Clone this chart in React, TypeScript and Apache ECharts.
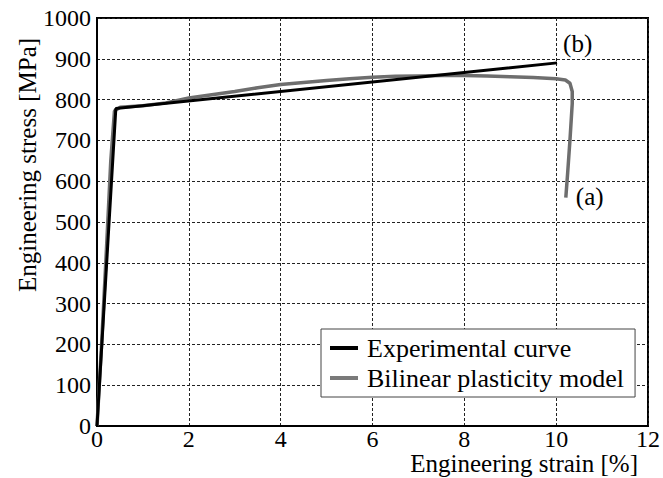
import React, { useEffect, useRef } from "react";
import * as echarts from "echarts";

// Black bilinear line (legend: "Experimental curve")
const blackStrain = [0, 0.41, 10.02];
const blackStress = [0, 778, 890];

// Gray measured curve (legend: "Bilinear plasticity model")
const grayStrain = [0, 0.1, 0.2, 0.3, 0.38, 0.5, 1, 1.5, 2, 2.5, 3, 3.5, 4, 4.5, 5, 5.5, 6, 6.5, 7, 7.5, 8, 8.5, 9, 9.5, 10, 10.2, 10.3, 10.35, 10.35, 10.3, 10.25, 10.21];
const grayStress = [0, 200, 420, 650, 772, 781, 785, 792, 804, 812, 820, 829, 837, 842, 847, 851, 855, 857, 858, 859, 859, 858, 856, 854, 851, 848, 840, 820, 790, 700, 620, 560];

const xTicks = { min: 0, max: 12, interval: 2 };
const yTicks = { min: 0, max: 1000, interval: 100 };

const seriesNames = ["Experimental curve", "Bilinear plasticity model"];
const endLabels = ["(b)", "(a)"];

const FONT = "'Liberation Serif', 'DejaVu Serif', serif";

export default function App() {
  const ref = useRef<HTMLDivElement>(null);
  useEffect(() => {
    document.body.style.margin = "0";
    const chart = echarts.init(ref.current!, undefined, { renderer: "svg" });

    const blackData = blackStrain.map((x, i) => {
      const last = i === blackStrain.length - 1;
      return last
        ? {
            value: [x, blackStress[i]],
            symbol: "circle",
            symbolSize: 0.01,
            label: {
              show: true,
              formatter: endLabels[0],
              position: "right",
              distance: 0,
              offset: [6, -19],
              color: "#000",
              fontFamily: FONT,
              fontSize: 25,
            },
          }
        : { value: [x, blackStress[i]] };
    });
    const grayData = grayStrain.map((x, i) => {
      const last = i === grayStrain.length - 1;
      return last
        ? {
            value: [x, grayStress[i]],
            symbol: "circle",
            symbolSize: 0.01,
            label: {
              show: true,
              formatter: endLabels[1],
              position: "right",
              distance: 5,
              offset: [5, -1],
              color: "#000",
              fontFamily: FONT,
              fontSize: 25,
            },
          }
        : { value: [x, grayStress[i]] };
    });

    chart.setOption({
      animation: false,
      backgroundColor: "#fff",
      grid: {
        left: 97,
        right: 8,
        top: 18,
        bottom: 52,
        show: true,
        borderColor: "#000",
        borderWidth: 2,
        backgroundColor: "transparent",
      },
      legend: {
        orient: "vertical",
        left: 321,
        top: 329,
        data: [seriesNames[0], seriesNames[1]],
        icon: "rect",
        itemWidth: 28,
        itemHeight: 4,
        itemGap: 4,
        padding: [6, 11, 6, 9],
        backgroundColor: "#fff",
        borderColor: "#444",
        borderWidth: 1,
        borderRadius: 0,
        selectedMode: false,
        textStyle: {
          fontFamily: FONT,
          fontSize: 26,
          color: "#000",
          padding: [0, 0, 0, 4],
        },
      },
      xAxis: {
        type: "value",
        min: xTicks.min,
        max: xTicks.max,
        interval: xTicks.interval,
        axisLine: { show: true, onZero: false, lineStyle: { color: "#000", width: 2 } },
        axisTick: { show: false },
        axisLabel: { color: "#000", fontFamily: FONT, fontSize: 24, margin: 1, formatter: (v: number) => String(v) },
        splitLine: { show: true, lineStyle: { color: "#222", width: 1, type: [3, 2] } },
      },
      yAxis: {
        type: "value",
        min: yTicks.min,
        max: yTicks.max,
        interval: yTicks.interval,
        axisLine: { show: true, onZero: false, lineStyle: { color: "#000", width: 2 } },
        axisTick: { show: false },
        axisLabel: { color: "#000", fontFamily: FONT, fontSize: 24, margin: 6, formatter: (v: number) => String(v) },
        splitLine: { show: true, lineStyle: { color: "#222", width: 1, type: [3, 2] } },
      },
      graphic: [
        {
          type: "text",
          x: 638,
          y: 463,
          silent: true,
          style: {
            text: "Engineering strain [%]",
            fontFamily: FONT,
            fontSize: 25,
            fill: "#000",
            align: "right",
            verticalAlign: "middle",
          },
        },
        {
          type: "text",
          x: 27,
          y: 165,
          rotation: Math.PI / 2,
          silent: true,
          style: {
            text: "Engineering stress [MPa]",
            fontFamily: FONT,
            fontSize: 25,
            fill: "#000",
            align: "center",
            verticalAlign: "middle",
          },
        },
      ],
      series: [
        {
          name: seriesNames[1],
          type: "line",
          data: grayData,
          symbol: "none",
          showSymbol: true,
          silent: true,
          lineStyle: { color: "#6e6e6e", width: 3.5 },
          itemStyle: { color: "#7a7a7a" },
          z: 2,
        },
        {
          name: seriesNames[0],
          type: "line",
          data: blackData,
          symbol: "none",
          showSymbol: true,
          silent: true,
          lineStyle: { color: "#000", width: 3 },
          itemStyle: { color: "#000" },
          z: 3,
        },
      ],
    });
    return () => chart.dispose();
  }, []);
  return (
    <div
      ref={ref}
      style={{ position: "fixed", left: 0, top: 0, width: 663, height: 478 }}
    />
  );
}
